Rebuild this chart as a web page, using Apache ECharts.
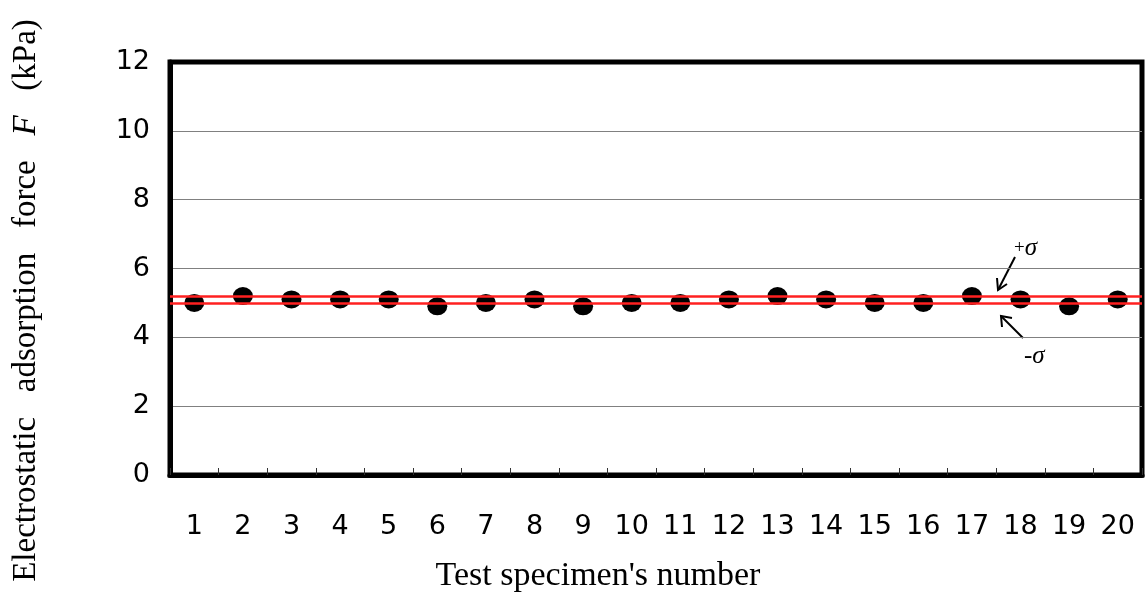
<!DOCTYPE html>
<html>
<head>
<meta charset="utf-8">
<script src="https://cdn.jsdelivr.net/npm/echarts@6/dist/echarts.min.js"></script>
<style>html,body{margin:0;padding:0;background:#fff}#c{width:1147px;height:592px}</style>
</head>
<body>
<div id="c"></div>
<script>
var specimens = ['1','2','3','4','5','6','7','8','9','10','11','12','13','14','15','16','17','18','19','20'];
var force = [5.0, 5.2, 5.1, 5.1, 5.1, 4.9, 5.0, 5.1, 4.9, 5.0, 5.0, 5.1, 5.2, 5.1, 5.0, 5.0, 5.2, 5.1, 4.9, 5.1];
var plusSigma = 5.19;
var minusSigma = 4.99;
var yTicks = [0, 2, 4, 6, 8, 10, 12];

var chart = echarts.init(document.getElementById('c'), null, {renderer: 'canvas'});
var sans = 'DejaVu Sans, Arial, sans-serif';
var serif = 'Liberation Serif, Times New Roman, serif';
chart.setOption({
  animation: false,
  backgroundColor: '#fff',
  grid: {left: 170, right: 5, top: 62, bottom: 117, show: true, borderColor: '#000', borderWidth: 5,
         backgroundColor: 'transparent', containLabel: false, outerBoundsMode: 'none'},
  xAxis: {
    type: 'category',
    data: specimens,
    boundaryGap: true,
    axisLine: {show: true, lineStyle: {color: '#000', width: 5}},
    axisTick: {show: true, inside: true, length: 7, lineStyle: {color: '#333', width: 1}},
    axisLabel: {margin: 38, fontFamily: sans, fontSize: 27, color: '#000'},
    name: 'Test specimen\'s number',
    nameLocation: 'middle',
    nameGap: 84,
    nameTextStyle: {fontFamily: serif, fontSize: 34, color: '#000', padding: [0, 116, 0, 0]}
  },
  yAxis: {
    type: 'value',
    min: yTicks[0], max: yTicks[yTicks.length - 1], interval: 2,
    axisLine: {show: true, lineStyle: {color: '#000', width: 5}},
    axisTick: {show: false},
    axisLabel: {margin: 20, fontFamily: sans, fontSize: 27, color: '#000'},
    splitLine: {show: true, showMaxLine: false, showMinLine: false, lineStyle: {color: '#808080', width: 1}},
    name: '{a|Electrostatic   adsorption   force   }{i|F}{a|   (kPa)}',
    nameLocation: 'middle',
    nameGap: 127,
    nameTextStyle: {
      padding: [0, 64, 0, 0],
      rich: {
        a: {fontFamily: serif, fontSize: 33, color: '#000'},
        i: {fontFamily: serif, fontSize: 33, fontStyle: 'italic', color: '#000'}
      }
    }
  },
  series: [{
    type: 'scatter',
    data: force,
    symbol: 'circle',
    symbolSize: [20, 18],
    itemStyle: {color: '#000', opacity: 1},
    z: 3,
    markLine: {
      silent: true,
      symbol: 'none',
      label: {show: false},
      lineStyle: {color: '#ff2020', width: 2.5, type: 'solid', opacity: 1},
      data: [{yAxis: plusSigma}, {yAxis: minusSigma}],
      z: 4
    }
  }],
  graphic: [
    {type: 'line', shape: {x1: 1015, y1: 257, x2: 998, y2: 290}, style: {stroke: '#000', lineWidth: 2}},
    {type: 'polyline', shape: {points: [[997, 278], [998, 290], [1007, 284]]}, style: {stroke: '#000', lineWidth: 2, fill: null}},
    {type: 'text', left: 1014, top: 236, style: {rich: {p: {fontFamily: serif, fontSize: 19, fill: '#000'}, s: {fontFamily: serif, fontSize: 25, fontStyle: 'italic', fill: '#000'}}, text: '{p|+}{s|σ}'}},
    {type: 'line', shape: {x1: 1023, y1: 338, x2: 1001, y2: 316}, style: {stroke: '#000', lineWidth: 2}},
    {type: 'polyline', shape: {points: [[1002, 327], [1001, 316], [1012, 318]]}, style: {stroke: '#000', lineWidth: 2, fill: null}},
    {type: 'text', left: 1024, top: 344, style: {rich: {p: {fontFamily: serif, fontSize: 25, fill: '#000'}, s: {fontFamily: serif, fontSize: 25, fontStyle: 'italic', fill: '#000'}}, text: '{p|-}{s|σ}'}}
  ]
});
</script>
</body>
</html>
